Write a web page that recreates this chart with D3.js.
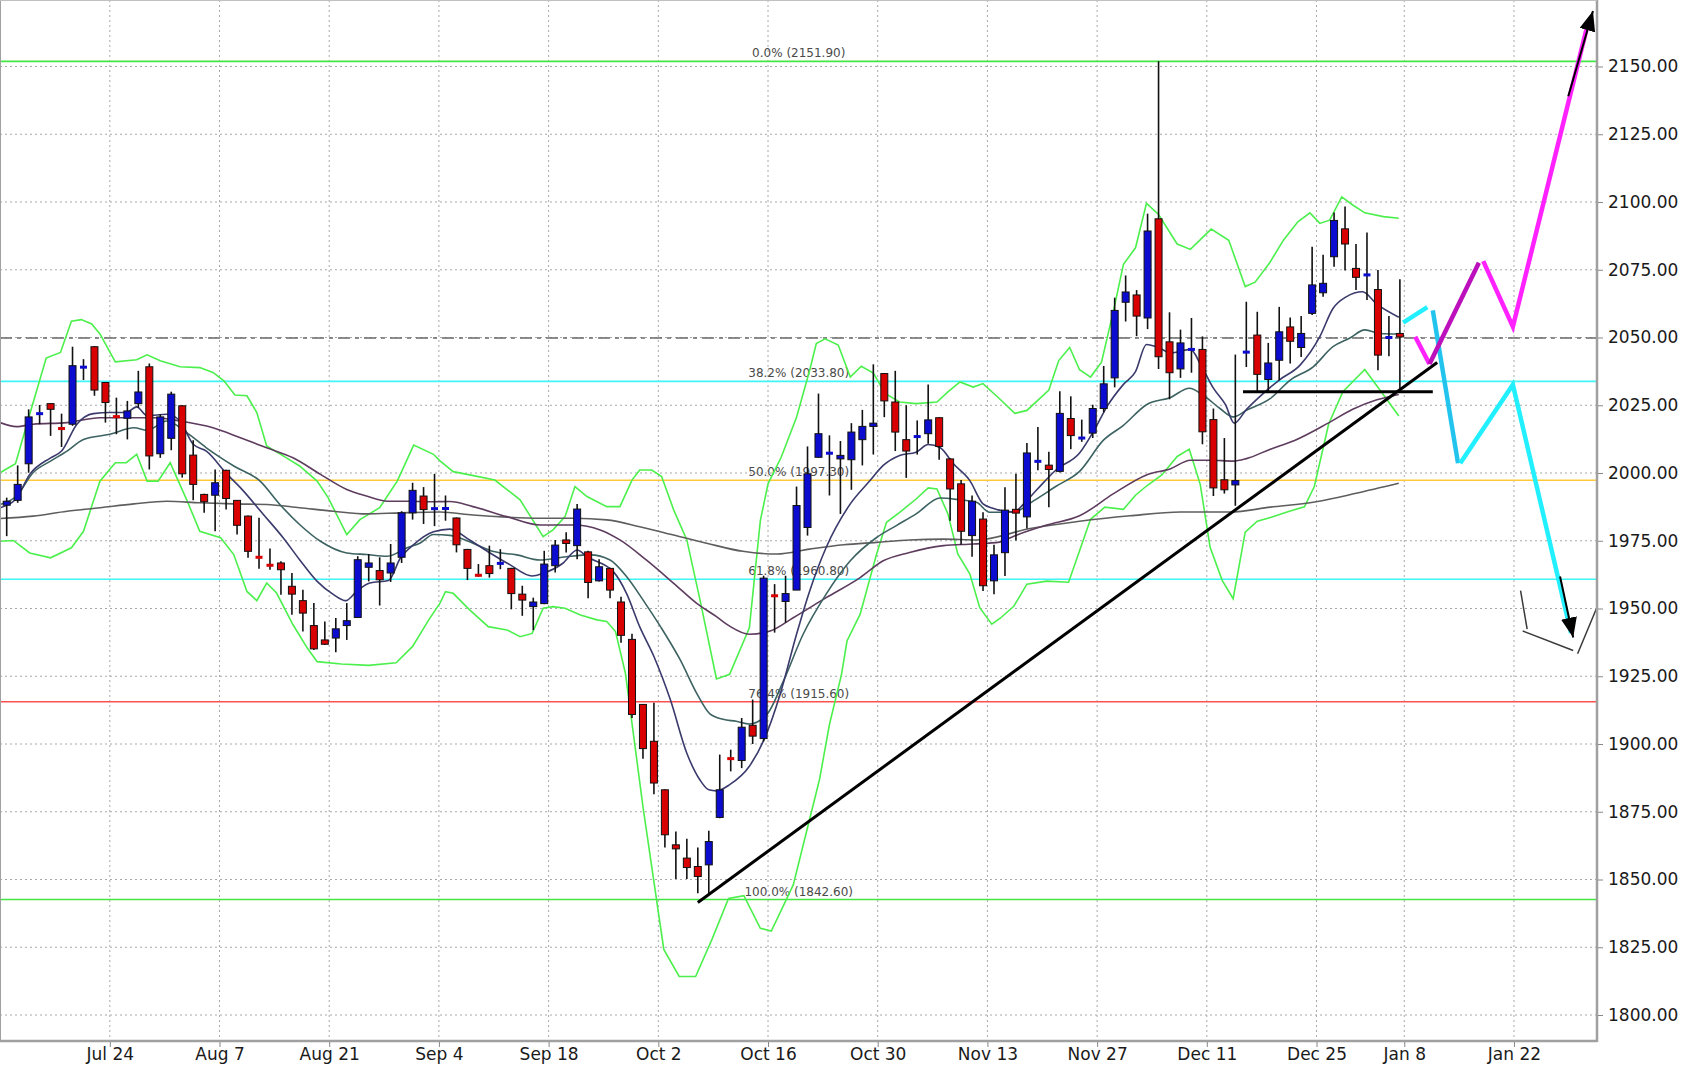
<!DOCTYPE html>
<html><head><meta charset="utf-8">
<script src="https://cdn.jsdelivr.net/npm/d3@7"></script>
<style>
body{margin:0;background:#fff;}
text{font-family:"DejaVu Sans",Verdana,sans-serif;}
</style>
</head><body>
<svg id="chart" width="1690" height="1075"></svg>
<script>
// ---------------- DATA ----------------
const opens = [1988.1,1989.9,2003.4,2021.5,2025.6,2016.8,2018.0,2038.6,2046.6,2033.4,
2021.2,2020.2,2025.6,2039.2,2007.1,2012.8,2024.8,2006.6,1992.1,1991.8,
2001.0,1989.9,1984.1,1969.3,1966.3,1966.8,1958.2,1952.9,1943.7,1938.4,
1939.1,1943.7,1946.7,1965.2,1964.0,1963.1,1968.9,1985.3,1991.5,1986.5,
1986.6,1983.4,1971.8,1962.6,1965.8,1966.3,1964.8,1955.3,1950.7,1951.8,
1965.8,1975.3,1973.2,1970.9,1960.2,1964.8,1952.4,1938.6,1914.6,1901.0,
1883.1,1862.8,1857.9,1854.8,1855.4,1872.9,1895.0,1893.9,1906.9,1902.0,
1955.1,1952.6,1956.8,1979.9,2005.8,2006.9,2005.2,2004.9,2012.3,2017.2,
2036.7,2026.2,2012.3,2013.0,2014.5,2020.4,2005.2,1996.0,1976.9,1983.0,
1960.2,1970.6,1986.6,1983.8,2004.0,2002.9,2000.6,2020.1,2012.5,2014.7,
2023.8,2035.1,2063.0,2065.7,2057.2,2093.8,2048.4,2038.4,2045.2,2045.6,
2019.7,1997.5,1995.6,2044.1,2050.9,2034.5,2041.6,2053.9,2046.3,2058.9,
2066.5,2079.8,2090.1,2075.5,2072.7,2067.7,2049.6,2051.5];
const highs = [1990.9,2002.8,2023.5,2025.1,2025.8,2021.9,2046.6,2042.0,2046.8,2033.6,
2027.8,2026.6,2037.7,2040.4,2021.7,2030.0,2025.0,2012.1,1992.3,2001.3,
2001.2,1990.0,1984.3,1983.5,1972.1,1967.4,1963.1,1956.9,1952.0,1945.2,
1946.5,1952.0,1969.3,1970.1,1968.9,1973.8,1985.9,1996.4,1994.8,1999.7,
1991.7,1983.6,1972.0,1966.4,1973.2,1971.9,1965.0,1958.4,1954.0,1971.3,
1975.3,1978.1,1988.6,1971.3,1968.2,1965.0,1954.3,1940.7,1914.8,1915.2,
1883.3,1867.7,1865.0,1861.8,1868.0,1896.1,1897.9,1909.6,1916.4,1962.1,
1959.0,1962.1,1995.0,2009.8,2029.3,2013.9,2011.8,2018.4,2023.3,2040.1,
2036.9,2037.7,2025.0,2019.4,2032.7,2020.6,2005.4,1997.4,1991.7,1985.5,
1973.5,1994.7,1999.7,2011.1,2017.0,2007.8,2030.2,2028.3,2019.7,2025.2,
2039.5,2064.7,2072.9,2067.5,2095.7,2151.9,2059.3,2052.9,2057.2,2050.4,
2023.8,2012.9,2043.7,2063.2,2059.5,2048.0,2061.3,2057.4,2057.9,2083.5,
2080.5,2096.1,2098.3,2084.5,2088.7,2074.9,2057.9,2071.5];
const lows = [1976.7,1989.0,2000.1,2018.0,2013.7,2009.6,2017.4,2034.3,2028.5,2018.6,
2014.3,2012.4,2024.1,2001.3,2005.6,2008.4,1998.3,1989.9,1985.3,1978.5,
1986.5,1977.3,1968.7,1964.7,1964.3,1955.1,1947.7,1941.5,1934.7,1936.5,
1933.9,1938.4,1946.5,1960.0,1951.1,1959.8,1966.8,1982.8,1981.2,1980.4,
1982.4,1970.7,1960.5,1961.7,1961.4,1964.5,1949.7,1947.3,1942.0,1951.6,
1963.3,1970.7,1968.2,1953.8,1960.0,1953.8,1937.4,1909.6,1894.6,1881.5,
1861.8,1850.2,1850.2,1844.9,1844.3,1872.6,1889.9,1891.1,1900.0,1901.0,
1941.1,1944.8,1956.8,1976.9,2005.6,1991.7,1984.9,1993.8,2002.8,2006.8,
2020.6,2008.1,1998.2,2006.8,2010.8,2004.9,1982.4,1973.5,1969.1,1956.5,
1955.3,1962.0,1975.1,1979.5,2001.0,1987.4,2000.2,2008.8,2011.5,2012.9,
2022.4,2031.6,2055.9,2050.5,2053.1,2038.4,2027.2,2035.1,2037.0,2010.6,
1991.5,1992.4,1987.9,2039.1,2029.9,2029.9,2034.2,2040.4,2042.8,2058.3,
2065.0,2076.1,2074.7,2067.5,2063.8,2037.9,2043.1,2031.1];
const closes = [1989.6,1995.8,2020.7,2022.3,2023.5,2016.0,2039.6,2039.5,2030.6,2026.0,
2020.4,2022.9,2029.9,2006.3,2020.7,2029.1,1999.7,1995.8,1989.4,1996.4,
1990.6,1980.7,1971.1,1968.5,1965.6,1964.3,1955.3,1948.3,1935.1,1936.8,
1942.5,1945.5,1968.0,1966.8,1960.6,1966.8,1985.3,1993.6,1986.5,1987.2,
1987.2,1973.5,1964.8,1961.9,1962.9,1967.0,1955.5,1953.1,1952.4,1966.4,
1973.4,1974.0,1986.7,1959.6,1965.4,1956.8,1940.1,1910.9,1898.3,1885.6,
1866.5,1861.3,1854.4,1851.1,1864.0,1883.1,1894.2,1906.2,1902.9,1961.2,
1954.3,1955.5,1988.0,1999.7,2014.5,2007.7,2006.5,2015.1,2017.2,2018.4,
2026.6,2015.1,2008.1,2013.9,2019.6,2009.8,1994.1,1978.5,1989.6,1958.4,
1969.8,1986.3,1985.2,2007.4,2004.6,2001.3,2022.0,2013.8,2013.3,2023.8,
2032.9,2060.0,2066.8,2057.9,2089.3,2042.9,2037.0,2048.0,2046.0,2015.2,
1994.5,1993.8,1997.2,2045.1,2036.4,2040.6,2052.1,2048.6,2051.5,2069.4,
2070.0,2093.2,2084.5,2072.2,2073.5,2043.5,2050.4,2050.2];

// indicator lines: [bar index, price]
const bbUpper = [[-0.6,2000.1],[0.8,2003.4],[2.1,2021.7],[3.6,2042.4],[4.9,2044.5],[5.9,2056.0],[6.8,2056.6],[7.75,2055.0],[8.5,2051.3],[9.9,2041.0],[11.85,2041.8],[12.8,2043.6],[14.0,2041.4],[15.8,2039.2],[17.6,2038.9],[18.8,2037.1],[19.8,2034.0],[20.8,2028.8],[21.9,2028.5],[22.8,2022.3],[23.7,2010.0],[25.5,2005.6],[26.7,2002.6],[28.3,1997.0],[29.3,1990.9],[31.0,1977.3],[32.2,1982.8],[34.0,1987.2],[35.6,1997.0],[37.1,2010.3],[38.9,2006.9],[39.5,2004.5],[40.7,2000.5],[42.2,1999.3],[44.5,1997.4],[46.8,1990.1],[48.9,1976.5],[49.8,1979.0],[50.9,1983.9],[51.8,1995.0],[52.9,1991.3],[54.7,1987.6],[55.9,1987.6],[57.0,1997.4],[57.7,2001.1],[58.8,2001.1],[59.7,1998.7],[60.8,1986.4],[62.0,1975.3],[63.2,1953.2],[64.7,1924.0],[65.9,1925.7],[67.7,1942.9],[68.7,1982.4],[69.4,1996.0],[70.6,2005.8],[72.0,2020.6],[73.2,2037.9],[73.8,2047.8],[74.6,2049.5],[75.8,2047.2],[76.9,2035.4],[77.9,2039.4],[79.0,2036.9],[80.1,2029.3],[81.4,2026.2],[82.9,2025.6],[84.8,2026.2],[85.8,2029.9],[86.9,2033.6],[88.1,2031.7],[89.0,2033.0],[90.5,2027.4],[91.9,2022.0],[93.0,2023.1],[95.0,2030.6],[95.9,2041.5],[96.9,2046.3],[97.8,2038.1],[98.8,2035.4],[99.8,2040.9],[100.9,2060.0],[101.8,2077.0],[102.9,2083.1],[103.9,2099.5],[105.0,2095.4],[106.7,2084.5],[107.9,2082.5],[109.8,2090.0],[111.4,2085.9],[112.9,2068.8],[113.8,2070.4],[115.1,2077.4],[116.4,2086.0],[117.7,2092.7],[118.8,2096.0],[119.7,2092.1],[120.6,2093.3],[121.7,2101.9],[122.7,2098.9],[123.8,2096.0],[125.5,2094.6],[126.9,2094.0]];
const bbLower = [[-0.6,1974.8],[0.6,1975.1],[2.1,1970.5],[4.0,1968.7],[5.9,1972.4],[7.0,1978.5],[8.5,1997.0],[9.9,2003.8],[10.9,2003.8],[11.85,2006.9],[12.8,1997.0],[13.8,1997.0],[14.9,2003.8],[16.4,1990.2],[17.6,1978.5],[19.5,1976.1],[20.7,1969.9],[21.9,1956.3],[22.8,1952.9],[23.7,1959.4],[24.6,1955.7],[26.1,1944.0],[27.4,1935.4],[28.3,1930.4],[30.5,1929.5],[33.0,1929.0],[35.5,1930.0],[37.0,1936.0],[38.5,1946.0],[39.5,1952.0],[40.0,1956.2],[40.7,1955.6],[42.2,1949.5],[43.9,1943.3],[45.6,1942.1],[46.8,1939.6],[47.9,1940.8],[48.9,1950.1],[49.8,1950.7],[50.9,1950.1],[52.3,1947.6],[53.8,1945.8],[54.7,1945.2],[55.5,1941.5],[56.4,1926.1],[56.8,1913.8],[58.0,1876.9],[59.9,1824.2],[61.3,1814.2],[62.8,1814.2],[64.3,1828.0],[65.8,1843.0],[67.2,1844.0],[68.7,1832.0],[69.7,1831.0],[71.7,1848.0],[74.1,1887.0],[75.0,1907.2],[76.1,1925.7],[76.6,1938.0],[77.8,1947.9],[79.3,1970.1],[80.2,1981.8],[81.4,1985.5],[82.9,1990.4],[84.0,1994.5],[84.8,1994.1],[85.8,1984.9],[86.7,1970.1],[87.8,1962.7],[88.7,1950.3],[89.8,1944.2],[90.6,1946.5],[91.8,1950.8],[93.0,1959.0],[94.8,1960.1],[96.8,1959.7],[97.8,1971.3],[98.8,1982.9],[100.1,1987.4],[101.8,1986.6],[102.9,1991.8],[103.9,1995.2],[105.3,1999.3],[106.7,2006.1],[107.8,2008.8],[108.8,1995.8],[109.7,1972.6],[110.8,1960.4],[111.8,1953.6],[112.9,1978.2],[114.0,1982.2],[115.2,1983.6],[117.0,1986.0],[118.3,1987.5],[119.2,1995.0],[120.5,2018.0],[121.8,2030.0],[123.8,2038.2],[125.3,2030.0],[126.9,2021.0]];
const maFast = [[-0.6,1987.2],[0.8,1990.2],[2.1,1999.5],[4.0,2005.6],[5.0,2008.1],[6.4,2018.0],[7.9,2021.9],[9.4,2022.3],[10.9,2022.3],[11.85,2024.4],[12.8,2021.1],[14.6,2021.7],[15.8,2019.2],[17.0,2010.6],[18.2,2008.1],[20.1,1999.5],[21.3,1994.6],[23.4,1984.7],[25.2,1976.1],[26.7,1968.0],[28.3,1960.0],[29.8,1955.1],[30.9,1952.9],[31.9,1956.3],[33.1,1959.4],[34.8,1960.3],[35.9,1968.7],[37.1,1973.6],[38.9,1978.3],[40.4,1979.3],[42.2,1975.3],[44.1,1970.4],[45.9,1966.1],[47.9,1962.0],[48.9,1963.0],[50.7,1966.7],[52.0,1971.6],[52.9,1969.1],[55.3,1963.6],[56.5,1955.6],[57.7,1943.3],[59.0,1932.3],[60.5,1916.3],[62.0,1896.6],[63.2,1886.7],[64.0,1883.1],[64.7,1882.7],[65.9,1885.0],[67.7,1891.8],[69.1,1902.2],[70.5,1918.3],[72.0,1940.5],[73.2,1956.5],[74.7,1972.5],[76.9,1988.6],[78.7,1997.2],[79.9,2002.8],[81.4,2006.5],[82.9,2007.7],[84.0,2010.5],[85.1,2009.3],[86.3,2003.4],[87.8,1997.2],[89.0,1988.6],[89.9,1987.0],[91.8,1985.6],[92.8,1989.0],[93.9,1993.8],[95.7,2001.3],[97.8,2007.4],[99.2,2016.3],[100.3,2024.5],[101.8,2032.7],[102.9,2037.4],[103.9,2047.4],[105.0,2046.3],[106.1,2044.3],[107.9,2045.6],[108.9,2039.5],[110.0,2031.3],[111.1,2025.2],[111.9,2018.4],[113.0,2023.4],[114.2,2028.1],[116.0,2034.3],[117.9,2039.8],[119.7,2050.3],[120.9,2060.7],[122.1,2065.0],[123.6,2066.9],[124.9,2062.3],[126.9,2057.5]];
const maMid = [[-0.6,1988.4],[0.9,1991.5],[2.4,2000.1],[4.0,2004.4],[5.5,2008.1],[7.0,2012.4],[9.4,2014.3],[11.6,2016.7],[12.8,2015.8],[14.6,2019.2],[16.4,2014.9],[18.2,2009.3],[20.7,2002.6],[23.1,1997.0],[24.9,1988.4],[26.7,1981.0],[28.6,1974.8],[31.0,1970.5],[32.8,1969.9],[34.7,1969.3],[36.5,1972.4],[37.7,1974.2],[38.9,1977.3],[40.4,1977.0],[42.5,1974.1],[44.4,1971.0],[46.5,1969.8],[48.6,1967.9],[51.0,1969.1],[53.2,1969.8],[55.0,1967.9],[56.5,1961.8],[58.0,1953.2],[59.6,1943.3],[61.4,1931.0],[62.9,1918.7],[64.1,1911.1],[65.3,1909.1],[66.5,1908.4],[67.7,1907.4],[69.3,1910.9],[70.8,1923.2],[72.6,1940.5],[74.7,1955.3],[76.9,1967.6],[79.3,1976.2],[81.1,1980.6],[82.9,1984.9],[85.1,1990.8],[86.9,1990.1],[88.4,1989.2],[89.6,1985.5],[91.8,1985.6],[93.6,1989.7],[95.7,1995.2],[97.8,2000.6],[100.0,2012.2],[101.8,2017.6],[103.9,2025.2],[106.1,2027.9],[107.8,2031.3],[109.1,2028.6],[110.6,2023.8],[111.8,2020.7],[113.0,2023.1],[115.2,2027.5],[117.0,2034.3],[119.1,2039.2],[120.9,2046.6],[122.4,2049.7],[123.8,2052.8],[125.2,2051.5],[126.9,2051.3]];
const maSlow = [[-0.6,2018.6],[0.9,2017.1],[2.4,2018.0],[5.5,2018.6],[8.5,2020.4],[11.6,2020.4],[13.4,2020.4],[15.8,2019.2],[18.8,2016.7],[21.3,2013.0],[23.7,2009.3],[26.1,2005.6],[28.6,1999.5],[31.0,1993.9],[32.8,1991.5],[34.7,1989.6],[36.8,1989.6],[38.9,1989.4],[40.4,1989.5],[42.5,1987.6],[45.6,1983.9],[48.6,1980.8],[51.7,1980.8],[54.1,1979.0],[55.9,1975.3],[58.3,1967.9],[60.8,1959.3],[62.9,1951.9],[64.7,1947.0],[65.9,1943.5],[67.7,1940.5],[69.6,1941.7],[71.7,1946.6],[74.7,1954.0],[77.8,1961.4],[79.9,1967.6],[82.3,1970.7],[85.4,1973.2],[88.1,1973.8],[90.5,1974.5],[91.8,1976.7],[94.8,1980.8],[97.8,1984.2],[100.9,1992.4],[103.9,1999.3],[106.1,2001.6],[107.9,2004.7],[109.7,2004.7],[111.8,2004.4],[113.0,2005.3],[115.2,2008.8],[117.4,2012.0],[120.5,2018.5],[122.7,2023.5],[124.9,2027.0],[126.9,2029.0]];
const maLong = [[-0.6,1983.2],[2.4,1984.1],[5.5,1985.9],[8.5,1987.2],[11.6,1988.6],[14.6,1989.6],[17.6,1989.0],[20.7,1988.6],[23.7,1988.4],[26.7,1987.2],[29.8,1985.9],[32.8,1984.9],[35.9,1985.3],[39.5,1985.6],[42.5,1984.5],[45.6,1983.7],[48.6,1983.3],[51.7,1983.3],[54.7,1982.7],[57.7,1980.2],[60.8,1977.1],[63.8,1974.1],[67.1,1971.1],[70.2,1970.1],[73.2,1971.9],[76.3,1973.5],[79.3,1974.4],[82.3,1975.3],[85.4,1975.6],[88.4,1975.3],[93.3,1979.5],[97.8,1982.2],[102.4,1984.2],[107.0,1985.6],[111.5,1985.6],[115.2,1987.4],[119.5,1989.5],[123.0,1992.5],[126.9,1996.2]];

// Fibonacci retracement
const fibNames = ["0.0%","38.2%","50.0%","61.8%","76.4%","100.0%"];
const fibLevels = [2151.9, 2033.8, 1997.3, 1960.8, 1915.6, 1842.6];
const fibColors = ["#44e644","#3ff5f5","#ffc93a","#3ff5f5","#ff5050","#44e644"];
const fibLabelAt = 72.2;
const refLevel = 2049.8;

// hand drawn objects
const trendLine = [[63.0,1841.5],[130.4,2040.8]];
const supportLine = [[112.7,2030.0],[130.0,2030.0]];
const magentaPaths = [
  {pts:[[128.4,2050.3],[129.7,2040.2]], color:"#ff22ff"},
  {pts:[[129.7,2040.2],[134.2,2077.6]], color:"#bb10bb"},
  {pts:[[134.6,2078.2],[137.3,2054.0],[144.0,2163.6]], color:"#ff22ff"}
];
const cyanPaths = [
  {pts:[[127.3,2055.5],[129.5,2061.2]], color:"#22f0ff"},
  {pts:[[130.0,2060.0],[132.3,2003.6]], color:"#22c4ee"},
  {pts:[[132.5,2003.6],[137.3,2032.6],[142.6,1941.0]], color:"#22f0ff"}
];
const arrows = [
  [[142.35,2139.0],[144.6,2170.5]],
  [[141.6,1961.8],[142.8,1939.3]]
];
const bracket = [
  [[138.0,1956.6],[138.6,1942.4]],
  [[138.2,1941.7],[142.8,1934.5]],
  [[143.2,1933.3],[144.9,1949.8]]
];

// axes
const yTicks = d3.range(1800, 2151, 25);
const xTickIdx = [9.4,19.4,29.4,39.4,49.4,59.4,69.4,79.4,89.4,99.4,109.4,119.4,127.4,137.4];
const xTickLabels = ["Jul 24","Aug 7","Aug 21","Sep 4","Sep 18","Oct 2","Oct 16","Oct 30","Nov 13","Nov 27","Dec 11","Dec 25","Jan 8","Jan 22"];

// ---------------- DRAW ----------------
const plotR = 1597, plotB = 1041;
const x = d3.scaleLinear().domain([0,127]).range([6.7, 6.7+127*10.97]);
const y = d3.scaleLinear().domain([1800,2150]).range([1015,66.5]);
const svg = d3.select("#chart");

svg.append("defs").append("clipPath").attr("id","clip")
  .append("rect").attr("x",0).attr("y",0).attr("width",plotR).attr("height",plotB);
const defs = svg.select("defs");
defs.append("marker").attr("id","ah").attr("viewBox","0 0 20 16")
  .attr("refX",20).attr("refY",8).attr("markerWidth",20).attr("markerHeight",16)
  .attr("markerUnits","userSpaceOnUse").attr("orient","auto")
  .append("path").attr("d","M0,0 L20,8 L0,16 Z").attr("fill","#000");

// grid
const grid = svg.append("g");
grid.selectAll("line.h").data(yTicks).join("line")
  .attr("x1",0).attr("x2",plotR).attr("y1",d=>y(d)).attr("y2",d=>y(d))
  .attr("stroke","#a8a8a8").attr("stroke-width",1).attr("stroke-dasharray","2,3");
grid.selectAll("line.v").data(xTickIdx).join("line")
  .attr("x1",d=>x(d)).attr("x2",d=>x(d)).attr("y1",0).attr("y2",plotB)
  .attr("stroke","#a8a8a8").attr("stroke-width",1).attr("stroke-dasharray","2,3");

const plot = svg.append("g").attr("clip-path","url(#clip)");

// fib lines
plot.selectAll("line.fib").data(fibLevels).join("line")
  .attr("x1",0).attr("x2",plotR).attr("y1",d=>y(d)).attr("y2",d=>y(d))
  .attr("stroke",(d,i)=>fibColors[i]).attr("stroke-width",1.6);
plot.selectAll("text.fib").data(fibLevels).join("text")
  .attr("x",x(fibLabelAt)).attr("y",d=>y(d)-4).attr("text-anchor","middle")
  .attr("font-size",12).attr("fill","#4a4a4a")
  .text((d,i)=>`${fibNames[i]} (${d.toFixed(2)})`);

// reference dash-dot line
plot.append("line").attr("x1",0).attr("x2",plotR).attr("y1",y(refLevel)).attr("y2",y(refLevel))
  .attr("stroke","#6a6a6a").attr("stroke-width",1.5).attr("stroke-dasharray","12,5,4,5");

// indicator lines
const lineLin = d3.line().x(d=>x(d[0])).y(d=>y(d[1]));
const lineSm = d3.line().x(d=>x(d[0])).y(d=>y(d[1])).curve(d3.curveMonotoneX);
[[bbUpper,"#4cf04c",lineLin],[bbLower,"#4cf04c",lineLin],
 [maLong,"#5e5e5e",lineSm],[maSlow,"#5e3c5e",lineSm],[maMid,"#3d6262",lineSm],[maFast,"#3a3a6c",lineSm]]
 .forEach(([data,col,gen])=>{
  plot.append("path").attr("d",gen(data)).attr("fill","none").attr("stroke",col).attr("stroke-width",1.6);
 });

// candles
const idx = d3.range(opens.length);
const bw = 7;
const cg = plot.append("g");
cg.selectAll("line.w").data(idx).join("line")
  .attr("x1",i=>x(i)).attr("x2",i=>x(i)).attr("y1",i=>y(highs[i])).attr("y2",i=>y(lows[i]))
  .attr("stroke","#111").attr("stroke-width",1.6);
cg.selectAll("rect.b").data(idx).join("rect")
  .attr("x",i=>x(i)-bw/2).attr("width",bw)
  .attr("y",i=>{const t=y(Math.max(opens[i],closes[i])),b=y(Math.min(opens[i],closes[i]));return (b-t<3)?(t+b)/2-1.5:t;})
  .attr("height",i=>{const t=y(Math.max(opens[i],closes[i])),b=y(Math.min(opens[i],closes[i]));return Math.max(3,b-t);})
  .attr("fill",i=>closes[i]>=opens[i]?"#0c0cd0":"#d80000")
  .attr("stroke",i=>{const h=Math.abs(y(opens[i])-y(closes[i]));return h<3?"none":"#111";})
  .attr("stroke-width",1);

// trend and support lines
plot.append("path").attr("d",lineLin(trendLine)).attr("stroke","#000").attr("stroke-width",3).attr("fill","none");
plot.append("path").attr("d",lineLin(supportLine)).attr("stroke","#000").attr("stroke-width",3).attr("fill","none");

// projections
[...cyanPaths, ...magentaPaths].forEach(p=>{
  plot.append("path").attr("d",lineLin(p.pts)).attr("fill","none")
    .attr("stroke",p.color).attr("stroke-width",4.5).attr("stroke-linejoin","miter");
});
arrows.forEach(a=>{
  plot.append("path").attr("d",lineLin(a)).attr("stroke","#000").attr("stroke-width",2)
    .attr("fill","none").attr("marker-end","url(#ah)");
});
bracket.forEach(b=>{
  plot.append("path").attr("d",lineLin(b)).attr("stroke","#3a3a3a").attr("stroke-width",1.5).attr("fill","none");
});

// frame
svg.append("line").attr("x1",plotR).attr("x2",plotR).attr("y1",0).attr("y2",plotB+1).attr("stroke","#a0a0a0").attr("stroke-width",2.5);
svg.append("line").attr("x1",0).attr("x2",plotR).attr("y1",plotB).attr("y2",plotB).attr("stroke","#a0a0a0").attr("stroke-width",2.5);
svg.append("line").attr("x1",0.5).attr("x2",0.5).attr("y1",0).attr("y2",plotB).attr("stroke","#a0a0a0").attr("stroke-width",1);
svg.append("line").attr("x1",0).attr("x2",plotR).attr("y1",0.5).attr("y2",0.5).attr("stroke","#c0c0c0").attr("stroke-width",1);

// axes
const yAxis = svg.append("g").attr("transform",`translate(${plotR+1},0)`)
  .call(d3.axisRight(y).tickValues(yTicks).tickSize(5).tickPadding(5).tickFormat(d3.format(".2f")));
yAxis.select(".domain").remove();
yAxis.selectAll("text").attr("font-size",17).attr("fill","#1a1a1a").attr("font-family","DejaVu Sans, Verdana, sans-serif");
yAxis.selectAll("line").attr("stroke","#888");

const xAxis = svg.append("g").attr("transform",`translate(0,${plotB+1})`)
  .call(d3.axisBottom(x).tickValues(xTickIdx).tickSize(5).tickPadding(1).tickFormat((d,i)=>xTickLabels[i]));
xAxis.select(".domain").remove();
xAxis.selectAll("text").attr("font-size",17).attr("fill","#1a1a1a").attr("font-family","DejaVu Sans, Verdana, sans-serif");
xAxis.selectAll("line").attr("stroke","#888");
</script>
</body></html>
